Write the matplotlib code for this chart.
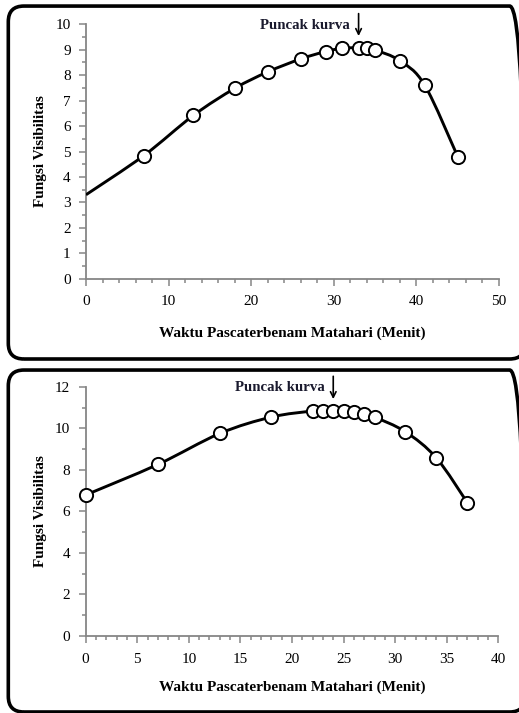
import numpy as np
import matplotlib.pyplot as plt
from matplotlib.path import Path
from matplotlib.patches import PathPatch, FancyBboxPatch
from matplotlib.ticker import MultipleLocator

# data
x1 = [0, 7, 13, 18, 22, 26, 29, 31, 33, 34, 35, 38, 41, 45]
y1 = [3.3, 4.84, 6.42, 7.48, 8.13, 8.64, 8.93, 9.06, 9.08, 9.06, 8.99, 8.57, 7.61, 4.80]
peak1 = 33

x2 = [0, 7, 13, 18, 22, 23, 24, 25, 26, 27, 28, 31, 34, 37]
y2 = [6.79, 8.26, 9.75, 10.54, 10.83, 10.84, 10.85, 10.83, 10.77, 10.69, 10.54, 9.83, 8.57, 6.42]
peak2 = 24

xlabel = 'Waktu Pascaterbenam Matahari (Menit)'
ylabel = 'Fungsi Visibilitas'
note = 'Puncak kurva'

plt.rcParams['font.family'] = ['Liberation Serif', 'DejaVu Serif']
grey = '#868686'


def smooth_path(x, y):
    # Excel-like smoothed line: bezier segments (catmull-rom tangents)
    x = np.asarray(x, float)
    y = np.asarray(y, float)
    verts = [(x[0], y[0])]
    codes = [Path.MOVETO]
    n = len(x)
    for i in range(n - 1):
        i0 = max(i - 1, 0)
        i3 = min(i + 2, n - 1)
        c1 = (x[i] + (x[i + 1] - x[i0]) / 6, y[i] + (y[i + 1] - y[i0]) / 6)
        c2 = (x[i + 1] - (x[i3] - x[i]) / 6, y[i + 1] - (y[i3] - y[i]) / 6)
        verts += [c1, c2, (x[i + 1], y[i + 1])]
        codes += [Path.CURVE4] * 3
    return Path(verts, codes)


def draw(ax, x, y, peak, xmax, xmaj, xmin, ymax, ymaj, ymin, first_marker, xlpad):
    ax.add_patch(PathPatch(smooth_path(x, y), fill=False, lw=2.1, color='black', zorder=3))
    k = 0 if first_marker else 1
    ax.plot(x[k:], y[k:], 'o', ms=9.5, mfc='white', mec='black', mew=1.4, zorder=4, clip_on=False)
    ax.set_xlim(0, xmax)
    ax.set_ylim(0, ymax)
    ax.xaxis.set_major_locator(MultipleLocator(xmaj))
    ax.xaxis.set_minor_locator(MultipleLocator(xmin))
    ax.yaxis.set_major_locator(MultipleLocator(ymaj))
    ax.yaxis.set_minor_locator(MultipleLocator(ymin))
    for s in ['top', 'right']:
        ax.spines[s].set_visible(False)
    for s in ['left', 'bottom']:
        ax.spines[s].set_color(grey)
        ax.spines[s].set_linewidth(1.3)
    ax.tick_params(which='major', length=5, width=1.1, color=grey, labelsize=11, direction='out')
    ax.tick_params(which='minor', length=3, width=1.1, color=grey, direction='out')
    ax.tick_params(axis='x', pad=7)
    ax.tick_params(axis='y', pad=6)
    ax.set_xlabel(xlabel, fontsize=11, fontweight='bold', labelpad=xlpad)
    ax.set_ylabel(ylabel, fontsize=11, fontweight='bold', labelpad=6)
    ypk = max(y)
    ax.annotate('', xy=(peak, ypk + 0.035 * ymax), xytext=(peak, ymax * 1.053),
                arrowprops=dict(arrowstyle='->', color='black', lw=1.2), annotation_clip=False)
    ax.text(peak - 0.021 * xmax, ymax * 0.995, note, fontsize=10.7, fontweight='bold',
            ha='right', va='center', color='#1a1a2e', clip_on=False)


fig = plt.figure(figsize=(5.19, 7.13), dpi=100)

# panel frames
for yb, h in [(0.4965, 0.495), (0.0014, 0.4796)]:
    fig.patches.append(FancyBboxPatch((0.016, yb), 0.996, h, boxstyle='round,pad=0,rounding_size=0.03',
                                      transform=fig.transFigure, fill=False, lw=2.6, ec='black',
                                      mutation_aspect=0.73))

ax1 = fig.add_axes([0.1657, 0.6091, 0.7958, 0.3568])
draw(ax1, x1, y1, peak1, 50, 10, 2, 10, 1, 0.5, False, 13)

ax2 = fig.add_axes([0.1651, 0.1080, 0.7950, 0.3496])
draw(ax2, x2, y2, peak2, 40, 5, 1, 12, 2, 1, True, 11)

plt.savefig('out.png', dpi=100)
